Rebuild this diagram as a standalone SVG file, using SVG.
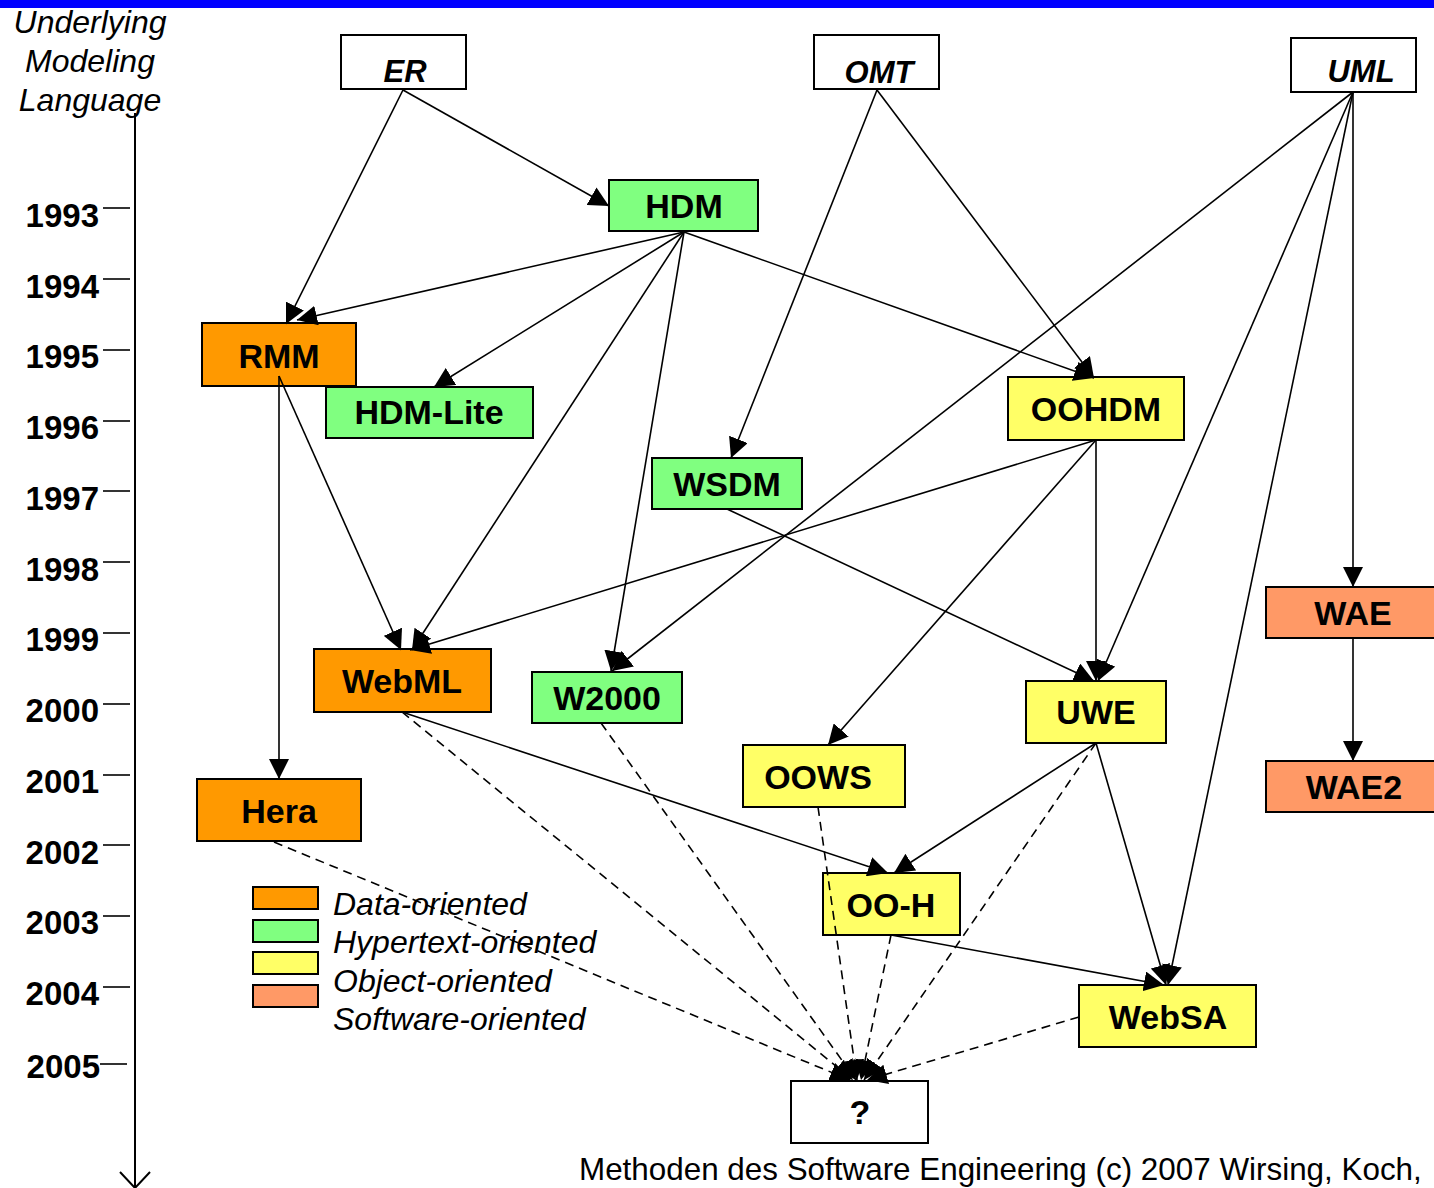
<svg xmlns="http://www.w3.org/2000/svg" width="1434" height="1188" viewBox="0 0 1434 1188">
  <style>
    .box { stroke: #000; stroke-width: 2; }
    .plain { fill: #fff; }
    .data { fill: #FF9900; }
    .hyper { fill: #80FF80; }
    .obj { fill: #FFFF66; }
    .soft { fill: #FF9966; }
    .lbl { font-family: "Liberation Sans", Arial, sans-serif; font-weight: bold; font-size: 34px; text-anchor: middle; fill: #000; }
    .lang { font-family: "Liberation Sans", Arial, sans-serif; font-weight: bold; font-style: italic; font-size: 31px; text-anchor: middle; fill: #000; }
    .year { font-family: "Liberation Sans", Arial, sans-serif; font-weight: bold; font-size: 33px; text-anchor: end; fill: #000; }
    .ital { font-family: "Liberation Sans", Arial, sans-serif; font-style: italic; font-size: 32px; fill: #000; }
    .legend { font-family: "Liberation Sans", Arial, sans-serif; font-style: italic; font-size: 32px; fill: #000; }
    .foot { font-family: "Liberation Sans", Arial, sans-serif; font-size: 31.4px; fill: #000; }
    .edge { stroke: #000; stroke-width: 1.6; fill: none; marker-end: url(#head); }
    .dash { stroke-dasharray: 9 6; }
    .axis { stroke: #000; stroke-width: 2; fill: none; }
  </style>
  <defs>
    <marker id="head" viewBox="0 0 20 20" refX="20" refY="10" markerWidth="20" markerHeight="20" markerUnits="userSpaceOnUse" orient="auto">
      <path d="M0,0 L20,10 L0,20 z" fill="#000" stroke="none"/>
    </marker>
  </defs>

  <rect width="1434" height="1188" fill="#fff"/>
  <!-- title bar -->
  <rect x="0" y="0" width="1434" height="8" fill="#0000FF"/>

  <!-- time axis -->
  <g id="timeline">
    <text class="ital" text-anchor="middle" x="90" y="33">Underlying</text>
    <text class="ital" text-anchor="middle" x="90" y="72">Modeling</text>
    <text class="ital" text-anchor="middle" x="90" y="111">Language</text>
    <line class="axis" x1="135" y1="113" x2="135" y2="1188"/>
    <polyline class="axis" points="120,1172 135,1188 150,1172"/>
    <g stroke="#000" stroke-width="1.6">
      <line x1="103" y1="208" x2="130" y2="208"/>
      <line x1="103" y1="279" x2="130" y2="279"/>
      <line x1="103" y1="350" x2="130" y2="350"/>
      <line x1="103" y1="421" x2="130" y2="421"/>
      <line x1="103" y1="491" x2="130" y2="491"/>
      <line x1="103" y1="562" x2="130" y2="562"/>
      <line x1="103" y1="633" x2="130" y2="633"/>
      <line x1="103" y1="704" x2="130" y2="704"/>
      <line x1="103" y1="775" x2="130" y2="775"/>
      <line x1="103" y1="845" x2="130" y2="845"/>
      <line x1="103" y1="916" x2="130" y2="916"/>
      <line x1="103" y1="987" x2="130" y2="987"/>
      <line x1="100" y1="1064" x2="127" y2="1064"/>
    </g>
    <text class="year" x="99" y="227">1993</text>
    <text class="year" x="99" y="298">1994</text>
    <text class="year" x="99" y="368">1995</text>
    <text class="year" x="99" y="439">1996</text>
    <text class="year" x="99" y="510">1997</text>
    <text class="year" x="99" y="581">1998</text>
    <text class="year" x="99" y="651">1999</text>
    <text class="year" x="99" y="722">2000</text>
    <text class="year" x="99" y="793">2001</text>
    <text class="year" x="99" y="864">2002</text>
    <text class="year" x="99" y="934">2003</text>
    <text class="year" x="99" y="1005">2004</text>
    <text class="year" x="100" y="1078">2005</text>
  </g>

  <!-- legend -->
  <g id="legend">
    <rect class="box data" x="253" y="887" width="65" height="22"/>
    <rect class="box hyper" x="253" y="920" width="65" height="22"/>
    <rect class="box obj" x="253" y="952" width="65" height="22"/>
    <rect class="box soft" x="253" y="985" width="65" height="22"/>
    <text class="legend" x="333" y="915">Data-oriented</text>
    <text class="legend" x="333" y="953">Hypertext-oriented</text>
    <text class="legend" x="333" y="992">Object-oriented</text>
    <text class="legend" x="333" y="1030">Software-oriented</text>
  </g>

  <!-- nodes -->
  <g id="ER"><rect class="box plain" x="341" y="35" width="125" height="54"/><text class="lang" x="405" y="82">ER</text></g>
  <g id="OMT"><rect class="box plain" x="814" y="35" width="125" height="54"/><text class="lang" x="879" y="83">OMT</text></g>
  <g id="UML"><rect class="box plain" x="1291" y="38" width="125" height="54"/><text class="lang" x="1361" y="82">UML</text></g>
  <g id="HDM"><rect class="box hyper" x="609" y="180" width="149" height="51"/><text class="lbl" x="684" y="218">HDM</text></g>
  <g id="RMM"><rect class="box data" x="202" y="323" width="154" height="63"/><text class="lbl" x="279" y="368">RMM</text></g>
  <g id="HDM-Lite"><rect class="box hyper" x="326" y="387" width="207" height="51"/><text class="lbl" x="429" y="424">HDM-Lite</text></g>
  <g id="OOHDM"><rect class="box obj" x="1008" y="377" width="176" height="63"/><text class="lbl" x="1096" y="421">OOHDM</text></g>
  <g id="WSDM"><rect class="box hyper" x="652" y="458" width="150" height="51"/><text class="lbl" x="727" y="496">WSDM</text></g>
  <g id="WAE"><rect class="box soft" x="1266" y="587" width="174" height="51"/><text class="lbl" x="1353" y="625">WAE</text></g>
  <g id="WebML"><rect class="box data" x="314" y="649" width="177" height="63"/><text class="lbl" x="402" y="693">WebML</text></g>
  <g id="W2000"><rect class="box hyper" x="532" y="672" width="150" height="51"/><text class="lbl" x="607" y="710">W2000</text></g>
  <g id="UWE"><rect class="box obj" x="1026" y="681" width="140" height="62"/><text class="lbl" x="1096" y="724">UWE</text></g>
  <g id="OOWS"><rect class="box obj" x="743" y="745" width="162" height="62"/><text class="lbl" x="818" y="789">OOWS</text></g>
  <g id="WAE2"><rect class="box soft" x="1266" y="761" width="174" height="51"/><text class="lbl" x="1354" y="799">WAE2</text></g>
  <g id="Hera"><rect class="box data" x="197" y="779" width="164" height="62"/><text class="lbl" x="279" y="823">Hera</text></g>
  <g id="OO-H"><rect class="box obj" x="823" y="873" width="137" height="62"/><text class="lbl" x="891" y="917">OO-H</text></g>
  <g id="WebSA"><rect class="box obj" x="1079" y="985" width="177" height="62"/><text class="lbl" x="1168" y="1029">WebSA</text></g>
  <g id="unknown"><rect class="box plain" x="791" y="1081" width="137" height="62"/><text class="lbl" x="860" y="1124">?</text></g>

  <!-- connectors -->
  <g id="connectors">
    <line class="edge" x1="403" y1="90" x2="286" y2="324"/>
    <line class="edge" x1="403" y1="90" x2="609" y2="206"/>
    <line class="edge" x1="684" y1="232" x2="297" y2="320"/>
    <line class="edge" x1="684" y1="232" x2="434" y2="387"/>
    <line class="edge" x1="684" y1="232" x2="412" y2="650"/>
    <line class="edge" x1="684" y1="232" x2="611" y2="671"/>
    <line class="edge" x1="684" y1="232" x2="1094" y2="378"/>
    <line class="edge" x1="877" y1="90" x2="731" y2="458"/>
    <line class="edge" x1="877" y1="90" x2="1094" y2="378"/>
    <line class="edge" x1="1353" y1="92" x2="612" y2="671"/>
    <line class="edge" x1="1353" y1="92" x2="1098" y2="681"/>
    <line class="edge" x1="1353" y1="92" x2="1353" y2="587"/>
    <line class="edge" x1="1353" y1="92" x2="1168" y2="985"/>
    <line class="edge" x1="279" y1="376" x2="279" y2="779"/>
    <line class="edge" x1="279" y1="376" x2="401" y2="650"/>
    <line class="edge" x1="1096" y1="440" x2="410" y2="650"/>
    <line class="edge" x1="1096" y1="440" x2="828" y2="745"/>
    <line class="edge" x1="1096" y1="440" x2="1096" y2="681"/>
    <line class="edge" x1="727" y1="509" x2="1094" y2="681"/>
    <line class="edge" x1="1353" y1="638" x2="1353" y2="761"/>
    <line class="edge" x1="402" y1="712" x2="888" y2="873"/>
    <line class="edge" x1="1096" y1="743" x2="894" y2="873"/>
    <line class="edge" x1="1096" y1="743" x2="1166" y2="985"/>
    <line class="edge" x1="891" y1="935" x2="1164" y2="985"/>
    <!-- dashed: towards the open question -->
    <line class="edge dash" x1="274" y1="842" x2="850" y2="1080"/>
    <line class="edge dash" x1="402" y1="712" x2="853" y2="1080"/>
    <line class="edge dash" x1="601" y1="723" x2="856" y2="1080"/>
    <line class="edge dash" x1="818" y1="807" x2="857" y2="1080"/>
    <line class="edge dash" x1="891" y1="935" x2="861" y2="1080"/>
    <line class="edge dash" x1="1096" y1="743" x2="864" y2="1080"/>
    <line class="edge dash" x1="1079" y1="1017" x2="867" y2="1080"/>
  </g>

  <text class="foot" x="579" y="1180">Methoden des Software Engineering (c) 2007 Wirsing, Koch,</text>
</svg>
